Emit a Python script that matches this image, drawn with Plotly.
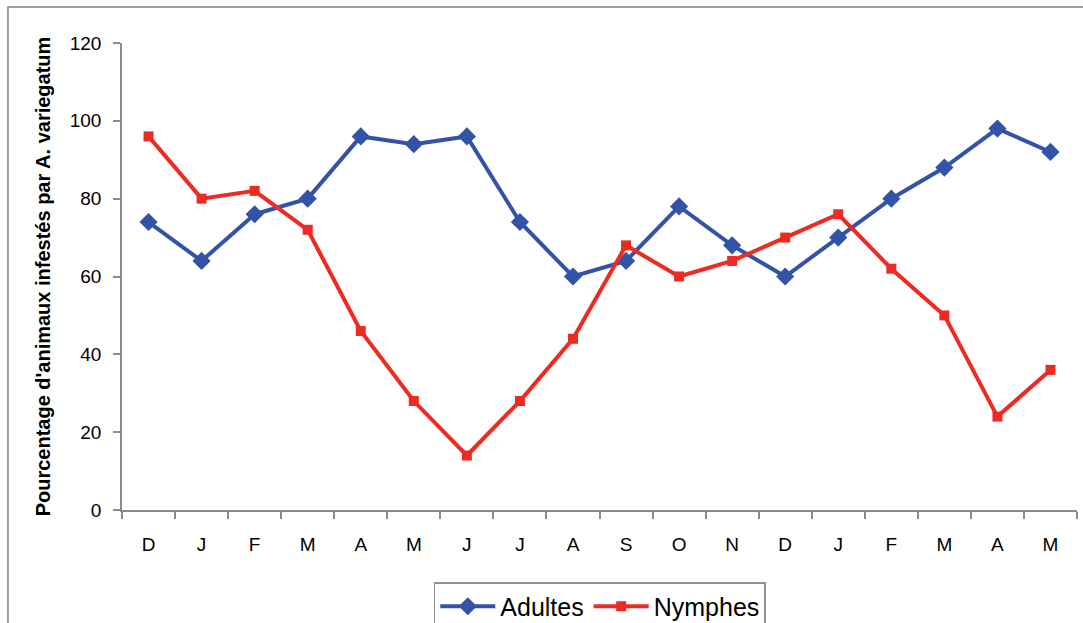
import plotly.graph_objects as go

# Monthly sampling, December through the following year's May
months = ["D", "J", "F", "M", "A", "M", "J", "J", "A", "S",
          "O", "N", "D", "J", "F", "M", "A", "M"]

# Percentage of animals infested by A. variegatum
adultes = [74, 64, 76, 80, 96, 94, 96, 74, 60, 64,
           78, 68, 60, 70, 80, 88, 98, 92]
nymphes = [96, 80, 82, 72, 46, 28, 14, 28, 44, 68,
           60, 64, 70, 76, 62, 50, 24, 36]

y_ticks = [0, 20, 40, 60, 80, 100, 120]

x = list(range(len(months)))
boundaries = [i - 0.5 for i in range(len(months) + 1)]

BLUE = "#3253A6"
RED = "#EE2B23"
AXIS = "#8A8A8A"
FONT = "Liberation Sans, Arial, sans-serif"

fig = go.Figure()
fig.add_trace(go.Scatter(
    x=x, y=adultes, name="Adultes", mode="lines+markers",
    line=dict(color=BLUE, width=4),
    marker=dict(symbol="diamond", size=14, color=BLUE),
))
fig.add_trace(go.Scatter(
    x=x, y=nymphes, name="Nymphes", mode="lines+markers",
    line=dict(color=RED, width=4),
    marker=dict(symbol="square", size=10, color=RED),
))

fig.update_xaxes(
    range=[-0.5, len(months) - 0.5],
    tickmode="array", tickvals=x, ticktext=months,
    ticks="", showgrid=False, zeroline=False,
    showline=True, linecolor=AXIS, linewidth=1.5,
    ticklabelstandoff=16,
    tickfont=dict(family=FONT, size=19, color="black"),
    minor=dict(tickmode="array", tickvals=boundaries, ticks="outside",
               ticklen=7, tickcolor=AXIS, tickwidth=1.5, showgrid=False),
)
fig.update_yaxes(
    range=[0, 120], tickmode="array", tickvals=y_ticks,
    ticks="outside", ticklen=7, tickcolor=AXIS, tickwidth=1.5,
    showgrid=False, zeroline=False,
    showline=True, linecolor=AXIS, linewidth=1.5,
    ticklabelstandoff=8,
    tickfont=dict(family=FONT, size=19, color="black"),
    title=dict(text="<b>Pourcentage d'animaux infestés par A. variegatum</b>",
               font=dict(family=FONT, size=20, color="black"), standoff=14),
)

# Outer frame around the whole chart
fig.add_shape(type="rect", xref="paper", yref="paper",
              x0=-0.1194, x1=1.1, y0=-0.3, y1=1.0771,
              line=dict(color="#A0A0A0", width=2), layer="below")

fig.update_layout(
    width=1083, height=623,
    margin=dict(l=122, r=6, t=43, b=113),
    plot_bgcolor="white", paper_bgcolor="white",
    font=dict(family=FONT, color="black"),
    showlegend=True,
    legend=dict(orientation="h", x=0.3265, y=1 - 582 / 623,
                xref="paper", yref="container",
                xanchor="left", yanchor="top",
                bordercolor="#909090", borderwidth=1.5,
                font=dict(family=FONT, size=25, color="black"),
                itemwidth=55, tracegroupgap=0),
)

fig.write_html("out.html")
